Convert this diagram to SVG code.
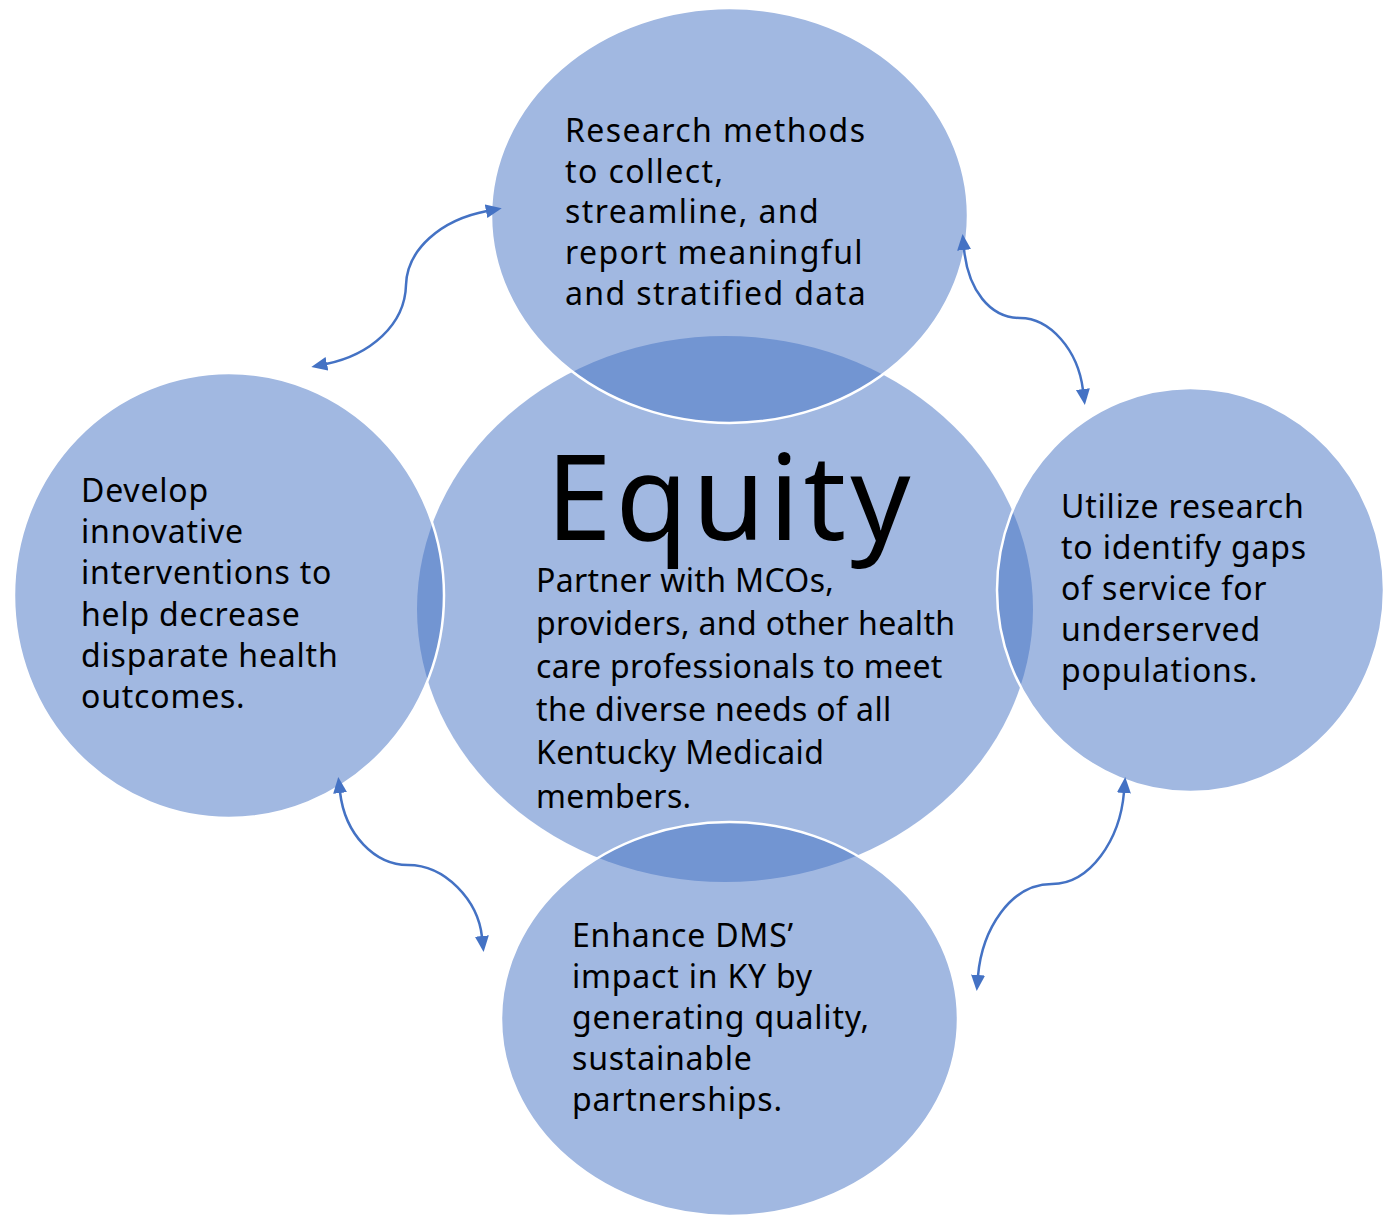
<svg xmlns="http://www.w3.org/2000/svg" width="1384" height="1215" viewBox="0 0 1384 1215">
<style>
.sh{fill:#4472C4;fill-opacity:0.5;}
.st{stroke:#FFFFFF;stroke-width:2.5;}
.t{font-family:"Noto Sans","Open Sans","Liberation Sans",sans-serif;font-size:32px;letter-spacing:0.8px;fill:#000000;}
.tt{letter-spacing:1.4px;}
.tc{letter-spacing:0.35px;}
.big{font-family:"Noto Sans","Open Sans","Liberation Sans",sans-serif;font-size:118px;letter-spacing:4px;fill:#000000;}
.c{fill:none;stroke:#4472C4;stroke-width:2.5;marker-start:url(#ah);marker-end:url(#ah);}
</style>
<defs>
<marker id="ah" markerUnits="userSpaceOnUse" markerWidth="18" markerHeight="16" refX="1" refY="7" orient="auto-start-reverse">
<path d="M0,0 L16,7 L0,14 z" fill="#4472C4"/>
</marker>
</defs>
<g id="center"><ellipse class="sh" cx="725" cy="609" rx="308" ry="273"/></g>
<g id="top"><ellipse class="sh st" cx="729.5" cy="215.5" rx="238.5" ry="207.5"/></g>
<g id="left"><ellipse class="sh st" cx="229" cy="595.5" rx="215" ry="222.5"/></g>
<g id="right"><ellipse class="sh st" cx="1190.5" cy="590" rx="193.5" ry="202"/></g>
<g id="bottom"><ellipse class="sh st" cx="729.5" cy="1019" rx="228.5" ry="197"/></g>
<g id="connectors">
<path class="c" d="M487,211 C440,220 407,250 406,285 C405,325 370,355 326,364"/>
<path class="c" d="M964,249 C968,290 990,318 1020,318 C1050,318 1078,350 1083,390"/>
<path class="c" d="M340,792 C345,835 375,865 408,865 C445,865 478,900 482,937"/>
<path class="c" d="M1124,792 C1120,840 1090,884 1052,884 C1010,884 982,930 978,976"/>
</g>
<g id="labels">
<text class="t tt"><tspan x="565" y="142">Research methods</tspan><tspan x="565" y="183">to collect,</tspan><tspan x="565" y="223">streamline, and</tspan><tspan x="565" y="264">report meaningful</tspan><tspan x="565" y="305">and stratified data</tspan></text>
<text class="t"><tspan x="81" y="502">Develop</tspan><tspan x="81" y="543">innovative</tspan><tspan x="81" y="584">interventions to</tspan><tspan x="81" y="626">help decrease</tspan><tspan x="81" y="667">disparate health</tspan><tspan x="81" y="708">outcomes.</tspan></text>
<text class="t"><tspan x="1061" y="518">Utilize research</tspan><tspan x="1061" y="559">to identify gaps</tspan><tspan x="1061" y="600">of service for</tspan><tspan x="1061" y="641">underserved</tspan><tspan x="1061" y="682">populations.</tspan></text>
<text class="big" x="546" y="540">Equity</text>
<text class="t tc"><tspan x="536" y="592">Partner with MCOs,</tspan><tspan x="536" y="635">providers, and other health</tspan><tspan x="536" y="678">care professionals to meet</tspan><tspan x="536" y="721">the diverse needs of all</tspan><tspan x="536" y="764">Kentucky Medicaid</tspan><tspan x="536" y="808">members.</tspan></text>
<text class="t"><tspan x="572" y="947">Enhance DMS’</tspan><tspan x="572" y="988">impact in KY by</tspan><tspan x="572" y="1029">generating quality,</tspan><tspan x="572" y="1070">sustainable</tspan><tspan x="572" y="1111">partnerships.</tspan></text>
</g>
</svg>
